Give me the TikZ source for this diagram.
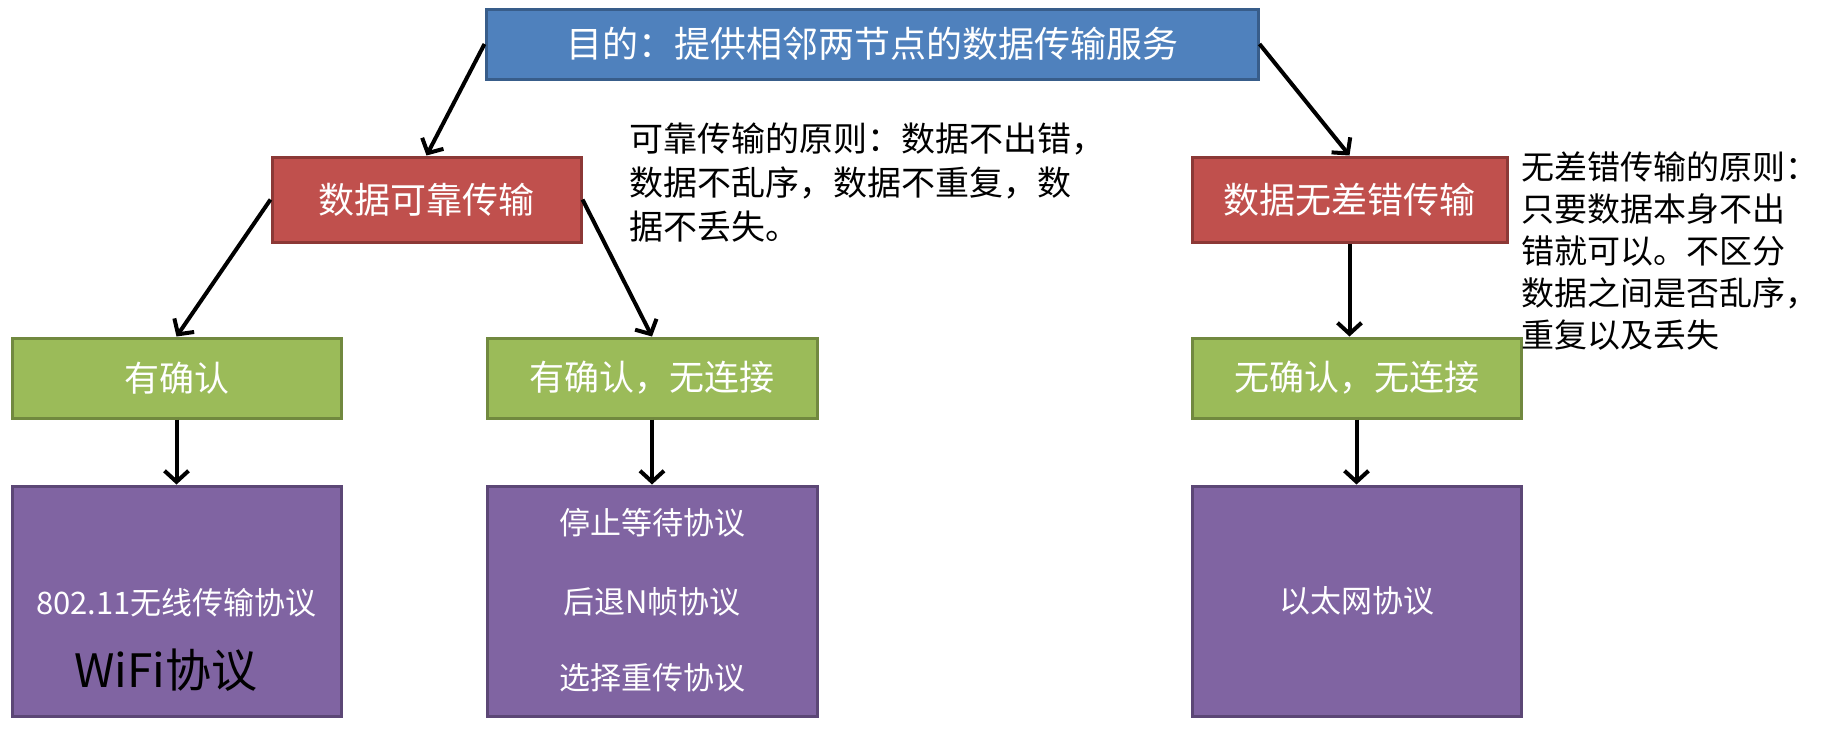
\documentclass[tikz,border=0pt]{standalone}
\usepackage{fontspec}
\setmainfont{Noto Sans CJK SC}
\usetikzlibrary{arrows.meta}
\definecolor{bluef}{HTML}{4F81BD}\definecolor{blued}{HTML}{385D8A}
\definecolor{redf}{HTML}{C0504D}\definecolor{redd}{HTML}{8C3836}
\definecolor{greenf}{HTML}{9BBB59}\definecolor{greend}{HTML}{71893F}
\definecolor{purpf}{HTML}{8064A2}\definecolor{purpd}{HTML}{5C4776}
\begin{document}
\begin{tikzpicture}[x=1pt,y=-1pt,
  box/.style={rectangle, line width=3pt, inner sep=0pt, text=white, align=center},
  bluebox/.style={box, draw=blued, fill=bluef, font=\fontsize{36}{40}\selectfont},
  redbox/.style={box, draw=redd, fill=redf, minimum height=85pt, font=\fontsize{36}{40}\selectfont},
  greenbox/.style={box, draw=greend, fill=greenf, minimum height=80pt, font=\fontsize{35}{40}\selectfont},
  purpbox/.style={box, draw=purpd, fill=purpf, minimum height=230pt},
  ptext/.style={inner sep=0pt, text=white, font=\fontsize{31}{36}\selectfont},
  arr/.style={line width=4pt, -{Straight Barb[length=11pt,width=24pt]}},
  note/.style={anchor=north west, align=left, inner sep=0pt}
]
\useasboundingbox (0,0) rectangle (1823,732);

\node[bluebox, minimum width=772pt, minimum height=70pt] (top) at (872,44) {目的：提供相邻两节点的数据传输服务};

\node[redbox, minimum width=309pt] (redL) at (426.5,199.5) {数据可靠传输};
\node[redbox, minimum width=315pt] (redR) at (1349.5,199.5) {数据无差错传输};

\node[greenbox, minimum width=329pt] (greenL) at (176.5,378) {有确认};
\node[greenbox, minimum width=330pt] (greenM) at (652,378) {有确认，无连接};
\node[greenbox, minimum width=329pt] (greenR) at (1356.5,378) {无确认，无连接};

\node[purpbox, minimum width=329pt] (purpL) at (176.5,601) {};
\node[purpbox, minimum width=330pt] (purpM) at (652,601) {};
\node[purpbox, minimum width=329pt] (purpR) at (1356.5,601) {};

\node[ptext] (pl1) at (176.5,603) {802.11无线传输协议};
\node[inner sep=0pt, text=black, font=\fontsize{46}{50}\selectfont] (pl2) at (166,670) {WiFi协议};
\node[ptext] (pm1) at (652,523) {停止等待协议};
\node[ptext] (pm2) at (652,602) {后退N帧协议};
\node[ptext] (pm3) at (652,678) {选择重传协议};
\node[ptext] (pr1) at (1356.5,601) {以太网协议};

\node[note, font=\fontsize{34}{44}\selectfont] (noteL) at (629,123) {可靠传输的原则：数据不出错，\\数据不乱序，数据不重复，数\\据不丢失。};
\node[note, font=\fontsize{33}{42}\selectfont] (noteR) at (1521,151) {无差错传输的原则：\\只要数据本身不出\\错就可以。不区分\\数据之间是否乱序，\\重复以及丢失};

\draw[arr] (top.west) -- (redL.north);
\draw[arr] (top.east) -- (redR.north);
\draw[arr] (redL.west) -- (greenL.north);
\draw[arr] (redL.east) -- (greenM.north);
\draw[arr] (redR.south) -- (redR.south |- greenR.north);
\draw[arr] (greenL.south) -- (purpL.north);
\draw[arr] (greenM.south) -- (purpM.north);
\draw[arr] (greenR.south) -- (purpR.north);
\end{tikzpicture}
\end{document}
